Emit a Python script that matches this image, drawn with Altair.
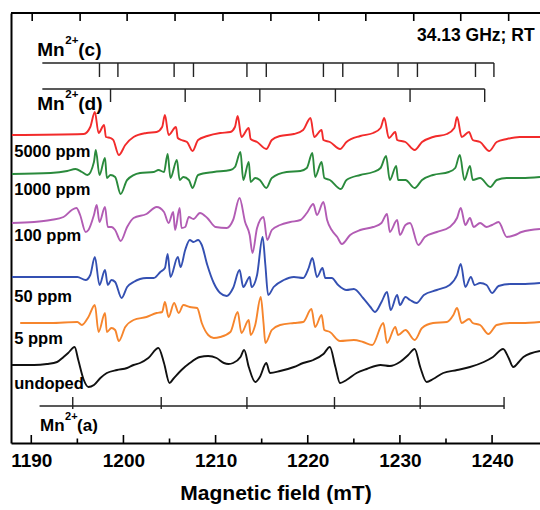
import altair as alt
import pandas as pd

FONT = "Liberation Sans"
field_min, field_max = 1187.8, 1245.2

# ---- spectra (field in mT, stacked signal in a.u.) ----
red_x = [1187.9, 1195.7, 1196.4, 1196.9, 1197.3, 1197.9, 1198.1, 1198.6, 1198.9, 1199.5, 1200.2, 1201.1, 1202.5,
         1203.6, 1204.2, 1204.5, 1204.9, 1205.7, 1205.9, 1206.3, 1206.9, 1207.5, 1208.1, 1209.1, 1210.5, 1211.6,
         1212.1, 1212.4, 1212.8, 1213.6, 1213.8, 1214.5, 1215.5, 1216.1, 1217.0, 1218.5, 1219.5, 1220.3, 1220.7,
         1221.5, 1221.7, 1222.4, 1223.5, 1224.2, 1225.7, 1227.1, 1227.9, 1228.3, 1228.8, 1229.5, 1229.7, 1230.6,
         1231.6, 1232.4, 1233.6, 1235.1, 1235.9, 1236.2, 1236.7, 1237.5, 1237.9, 1238.7, 1239.7, 1240.5, 1241.6,
         1243.0, 1245.2]
red_y = [308, 309, 316, 331, 310, 318, 306, 305, 303, 288, 298, 306, 310, 311, 316, 328, 308, 316, 305, 303, 301,
         292, 303, 307, 310, 311, 316, 327, 306, 315, 304, 301, 294, 303, 307, 309, 313, 325, 306, 313, 303, 301,
         294, 301, 307, 310, 315, 325, 305, 311, 303, 301, 293, 301, 306, 309, 315, 326, 306, 311, 303, 301, 292,
         301, 304, 306, 306]

green_x = [1187.9, 1192.1, 1193.9, 1194.8, 1195.5, 1196.1, 1196.8, 1197.0, 1197.4, 1198.0, 1198.2, 1198.6, 1199.1,
           1199.7, 1200.4, 1201.8, 1203.3, 1203.8, 1204.4, 1204.8, 1205.1, 1205.8, 1206.1, 1206.5, 1207.1, 1207.5,
           1208.1, 1209.8, 1211.6, 1212.1, 1212.7, 1213.0, 1213.6, 1213.8, 1214.3, 1214.8, 1215.5, 1216.1, 1217.7,
           1219.2, 1219.9, 1220.5, 1220.8, 1221.5, 1221.8, 1222.4, 1223.6, 1224.2, 1225.7, 1227.1, 1227.9, 1228.5,
           1228.9, 1229.6, 1229.8, 1230.6, 1231.6, 1232.4, 1233.6, 1235.3, 1236.0, 1236.5, 1237.0, 1237.6, 1237.9,
           1238.7, 1239.8, 1240.5, 1241.6, 1243.2, 1245.2]
green_y = [269, 270, 272, 274, 271, 268, 281, 293, 268, 285, 265, 268, 266, 249, 263, 270, 271, 273, 271, 289, 265,
           283, 263, 266, 263, 255, 268, 271, 273, 276, 291, 263, 281, 261, 265, 263, 255, 265, 271, 272, 275, 290,
           266, 281, 265, 263, 254, 263, 268, 271, 275, 287, 263, 277, 263, 263, 255, 263, 268, 271, 275, 288, 263,
           277, 263, 265, 256, 263, 265, 265, 266]

purple_x = [1187.9, 1190.3, 1192.1, 1193.5, 1194.4, 1194.9, 1195.3, 1195.9, 1196.2, 1196.8, 1197.1, 1197.4, 1198.0,
            1198.3, 1198.7, 1199.1, 1199.7, 1200.4, 1201.1, 1202.5, 1203.6, 1204.4, 1204.9, 1205.4, 1205.6, 1206.1,
            1206.3, 1206.7, 1207.1, 1207.6, 1208.3, 1209.1, 1210.0, 1211.2, 1211.9, 1212.6, 1213.2, 1213.7, 1214.0,
            1214.5, 1215.2, 1215.6, 1216.1, 1217.0, 1218.1, 1219.2, 1219.9, 1220.6, 1221.0, 1221.7, 1222.1, 1222.6,
            1223.2, 1223.7, 1224.6, 1225.7, 1227.1, 1228.0, 1228.6, 1228.9, 1229.7, 1230.0, 1230.6, 1231.1, 1232.0,
            1232.7, 1234.0, 1235.4, 1236.2, 1236.6, 1237.1, 1237.6, 1238.0, 1238.7, 1239.4, 1240.0, 1240.7, 1241.6,
            1242.5, 1243.2, 1245.2]
purple_y = [220, 221, 223, 226, 233, 235, 228, 211, 213, 228, 238, 221, 236, 216, 216, 213, 202, 216, 225, 229, 236,
            231, 220, 231, 213, 235, 215, 216, 226, 224, 230, 225, 216, 215, 223, 245, 221, 208, 190, 215, 226, 203,
            213, 218, 221, 223, 230, 239, 228, 241, 223, 213, 206, 199, 208, 213, 216, 220, 229, 211, 223, 208, 218,
            220, 198, 206, 211, 216, 225, 235, 218, 225, 216, 220, 216, 218, 221, 206, 208, 211, 214]

blue_x = [1187.9, 1192.1, 1195.0, 1195.9, 1196.4, 1196.9, 1197.4, 1198.0, 1198.3, 1198.7, 1199.1, 1199.8, 1200.4,
          1201.1, 1202.5, 1203.3, 1204.0, 1204.5, 1204.8, 1205.1, 1205.9, 1206.2, 1206.7, 1207.2, 1207.6, 1208.1,
          1208.5, 1209.1, 1209.8, 1210.5, 1211.2, 1211.9, 1212.6, 1213.0, 1213.7, 1213.9, 1214.5, 1215.1, 1215.4,
          1215.7, 1216.3, 1217.4, 1218.5, 1219.5, 1220.1, 1220.5, 1221.0, 1221.6, 1221.9, 1222.6, 1223.3, 1224.2,
          1225.0, 1226.0, 1226.8, 1227.3, 1228.0, 1228.6, 1229.0, 1229.7, 1230.0, 1230.6, 1231.1, 1231.8, 1232.6,
          1234.0, 1235.4, 1236.2, 1236.6, 1237.1, 1237.7, 1238.1, 1238.7, 1239.4, 1240.0, 1240.7, 1242.0, 1243.2,
          1245.2]
blue_y = [166, 166, 166, 163, 168, 186, 158, 173, 158, 163, 161, 145, 156, 161, 165, 165, 171, 175, 189, 166, 186,
          176, 193, 203, 201, 203, 198, 178, 160, 150, 147, 155, 173, 156, 166, 156, 168, 206, 178, 148, 156, 163,
          166, 165, 175, 185, 166, 175, 165, 165, 158, 153, 154, 145, 136, 131, 141, 151, 133, 148, 138, 146, 143,
          140, 148, 153, 158, 168, 179, 156, 166, 158, 160, 158, 150, 157, 159, 159, 160]

orange_x = [1188.8, 1192.1, 1195.0, 1195.5, 1196.2, 1196.9, 1197.3, 1198.0, 1198.2, 1198.7, 1199.1, 1199.5, 1200.2,
            1201.1, 1202.5, 1203.6, 1204.2, 1204.5, 1204.9, 1205.5, 1206.0, 1206.5, 1207.2, 1208.0, 1208.5, 1209.2,
            1209.8, 1210.5, 1211.6, 1212.4, 1212.8, 1213.6, 1213.8, 1214.3, 1214.9, 1215.2, 1215.4, 1216.1, 1217.0,
            1218.5, 1219.5, 1220.4, 1220.8, 1221.5, 1221.8, 1222.4, 1223.5, 1225.0, 1226.0, 1227.0, 1228.2, 1228.6,
            1229.5, 1229.8, 1230.6, 1231.6, 1232.4, 1233.6, 1235.1, 1235.8, 1236.2, 1236.7, 1237.5, 1237.9, 1238.7,
            1239.6, 1240.5, 1242.0, 1243.2, 1245.2]
orange_y = [120, 120, 121, 118, 126, 138, 111, 130, 111, 115, 113, 102, 116, 123, 126, 130, 131, 141, 126, 140, 130,
            138, 136, 135, 120, 108, 105, 106, 111, 131, 110, 123, 108, 118, 146, 120, 100, 113, 118, 120, 121, 134,
            116, 128, 113, 111, 102, 103, 101, 98, 120, 100, 116, 108, 113, 103, 115, 120, 121, 128, 135, 120, 124,
            120, 118, 109, 118, 120, 120, 121]

black_x = [1187.9, 1190.3, 1191.7, 1192.8, 1193.5, 1194.0, 1194.7, 1195.1, 1195.7, 1196.2, 1196.8, 1197.5, 1198.2,
           1199.3, 1200.4, 1201.1, 1201.8, 1202.7, 1203.8, 1204.4, 1205.0, 1205.4, 1206.3, 1207.2, 1208.3, 1209.2,
           1210.1, 1210.9, 1211.4, 1211.9, 1212.7, 1213.1, 1213.6, 1214.3, 1214.8, 1215.5, 1215.9, 1217.0, 1218.5,
           1219.5, 1220.6, 1221.7, 1222.4, 1223.0, 1223.5, 1224.2, 1225.3, 1226.4, 1227.9, 1228.9, 1230.0, 1230.9,
           1231.6, 1232.2, 1232.9, 1233.6, 1234.7, 1236.2, 1237.6, 1239.1, 1240.1, 1241.2, 1241.8, 1242.3, 1242.9,
           1243.4, 1245.2]
black_y = [78, 78, 79, 81, 86, 90, 96, 83, 63, 56, 58, 65, 70, 73, 75, 78, 80, 85, 95, 80, 60, 64, 73, 80, 86, 87,
           85, 80, 79, 80, 86, 93, 76, 61, 66, 80, 70, 72, 76, 80, 83, 89, 96, 76, 60, 63, 70, 74, 78, 77, 81, 88,
           94, 76, 61, 64, 70, 73, 76, 81, 86, 94, 85, 76, 81, 86, 92]

samples = ["5000 ppm", "1000 ppm", "100 ppm", "50 ppm", "5 ppm", "undoped"]
colors = ["#f22b2b", "#2a8a3c", "#b25cb4", "#3450b2", "#f6852c", "#111111"]
trace_x = [red_x, green_x, purple_x, blue_x, orange_x, black_x]
trace_y = [red_y, green_y, purple_y, blue_y, orange_y, black_y]
label_signal = [291, 253, 207, 146, 104, 59]
label_field = 1188.15

# ---- Mn2+ stick diagrams ----
mn_c_lines = [1197.4, 1199.4, 1205.5, 1207.6, 1213.4, 1215.5, 1221.7, 1223.8, 1229.8, 1231.9, 1238.2, 1240.2]
mn_d_lines = [1198.6, 1206.7, 1214.8, 1223.0, 1231.1, 1239.2]
mn_a_lines = [1194.5, 1204.1, 1213.4, 1222.9, 1232.2, 1241.3]

bottom_major = [1190, 1200, 1210, 1220, 1230, 1240]
bottom_minor = [1195, 1205, 1215, 1225, 1235]
top_ticks = [1190.1, 1195.3, 1200.4, 1205.6, 1210.8, 1216.0, 1221.2, 1226.3, 1231.5, 1236.6, 1241.8]

rows = []
for name, xs, ys in zip(samples, trace_x, trace_y):
    for i, (x, y) in enumerate(zip(xs, ys)):
        rows.append({"sample": name, "field": x, "signal": y, "order": i})
spec_df = pd.DataFrame(rows)

xscale = alt.Scale(domain=[field_min, field_max], nice=False, zero=False)
yscale = alt.Scale(domain=[0, 430], nice=False, zero=False)

x_enc = alt.X("field:Q", scale=xscale,
              axis=alt.Axis(title="Magnetic field (mT)", values=bottom_major, format="d", ticks=False,
                            grid=False, domainWidth=2, domainColor="black", labelFontSize=19,
                            labelFontWeight="bold", labelFont=FONT, labelColor="black", labelPadding=8,
                            titleFontSize=21, titleFont=FONT, titleFontWeight="bold", titleColor="black",
                            titlePadding=12, labelFlush=False))
y_enc = alt.Y("signal:Q", scale=yscale,
              axis=alt.Axis(title="", labels=False, ticks=False, grid=False, domainWidth=2,
                            domainColor="black"))

spectra = alt.Chart(spec_df).mark_line(strokeWidth=1.9, clip=True, interpolate="monotone").encode(
    x=x_enc, y=y_enc,
    color=alt.Color("sample:N", scale=alt.Scale(domain=samples, range=colors), legend=None),
    order="order:Q",
)

# vertical segments
vrows = []
for f in mn_c_lines:
    vrows.append({"field": f, "signal": 380, "signal2": 366})
for f in mn_d_lines:
    vrows.append({"field": f, "signal": 354, "signal2": 341})
for f in mn_a_lines:
    vrows.append({"field": f, "signal": 46, "signal2": 34})
vdf = pd.DataFrame(vrows)
vticks = alt.Chart(vdf).mark_rule(color="#222222", strokeWidth=1.4).encode(
    x=x_enc, y=y_enc, y2="signal2:Q")

# horizontal stick baselines
hdf = pd.DataFrame({"field": [1191.2, 1191.2, 1190.9], "field2": [1240.2, 1239.2, 1241.3],
                    "signal": [380, 354, 37]})
hlines = alt.Chart(hdf).mark_rule(color="#222222", strokeWidth=1.4).encode(
    x=x_enc, x2="field2:Q", y=y_enc)

# frame ticks
trows = []
for f in bottom_major:
    trows.append({"field": f, "signal": 0, "signal2": 8})
for f in bottom_minor:
    trows.append({"field": f, "signal": 0, "signal2": 4.5})
for f in top_ticks:
    trows.append({"field": f, "signal": 430, "signal2": 422})
tdf = pd.DataFrame(trows)
fticks = alt.Chart(tdf).mark_rule(color="black", strokeWidth=1.6, clip=True).encode(
    x=x_enc, y=y_enc, y2="signal2:Q")

topline = alt.Chart(pd.DataFrame({"field": [field_min], "field2": [field_max], "signal": [430]})).mark_rule(
    color="black", strokeWidth=2).encode(x=x_enc, x2="field2:Q", y=y_enc)

# sample labels
ldf = pd.DataFrame({"field": [label_field] * len(samples), "signal": label_signal, "text": samples})
labels = alt.Chart(ldf).mark_text(align="left", baseline="middle", font=FONT, fontWeight="bold",
                                  fontSize=16.5, color="black").encode(x=x_enc, y=y_enc, text="text:N")

# Mn2+ labels
mn_df = pd.DataFrame({"field": [1190.65, 1190.65], "signal": [393, 339], "site": ["(c)", "(d)"]})
mn_a_df = pd.DataFrame({"field": [1190.95], "signal": [17], "site": ["(a)"]})


def mn_label(df, size, sup_size, mn_w, sup_w, sup_dy):
    base = alt.Chart(df).mark_text(align="left", baseline="middle", font=FONT, fontWeight="bold",
                                   fontSize=size, color="black").encode(x=x_enc, y=y_enc,
                                                                        text=alt.value("Mn"))
    sup = alt.Chart(df).mark_text(align="left", baseline="middle", font=FONT, fontWeight="bold",
                                  fontSize=sup_size, color="black", dx=mn_w, dy=sup_dy).encode(
        x=x_enc, y=y_enc, text=alt.value("2+"))
    site = alt.Chart(df).mark_text(align="left", baseline="middle", font=FONT, fontWeight="bold",
                                   fontSize=size, color="black", dx=mn_w + sup_w).encode(
        x=x_enc, y=y_enc, text="site:N")
    return [base, sup, site]


mn_layers = mn_label(mn_df, 19, 11.5, 28, 13, -9) + mn_label(mn_a_df, 17, 11, 25, 12, -9)

freq = alt.Chart(pd.DataFrame({"field": [1231.85], "signal": [407], "text": ["34.13 GHz; RT"]})).mark_text(
    align="left", baseline="middle", font=FONT, fontWeight="bold", fontSize=17.5, color="black").encode(
    x=x_enc, y=y_enc, text="text:N")

chart = alt.layer(spectra, vticks, hlines, fticks, topline, labels, freq, *mn_layers).properties(
    width=529, height=430,
    padding={"left": 11, "top": 13, "right": 0, "bottom": 67},
    autosize=alt.AutoSizeParams(type="none"),
    background="white",
).configure_view(stroke=None)

chart.save("out.html", embed_options={"renderer": "svg", "actions": False})
